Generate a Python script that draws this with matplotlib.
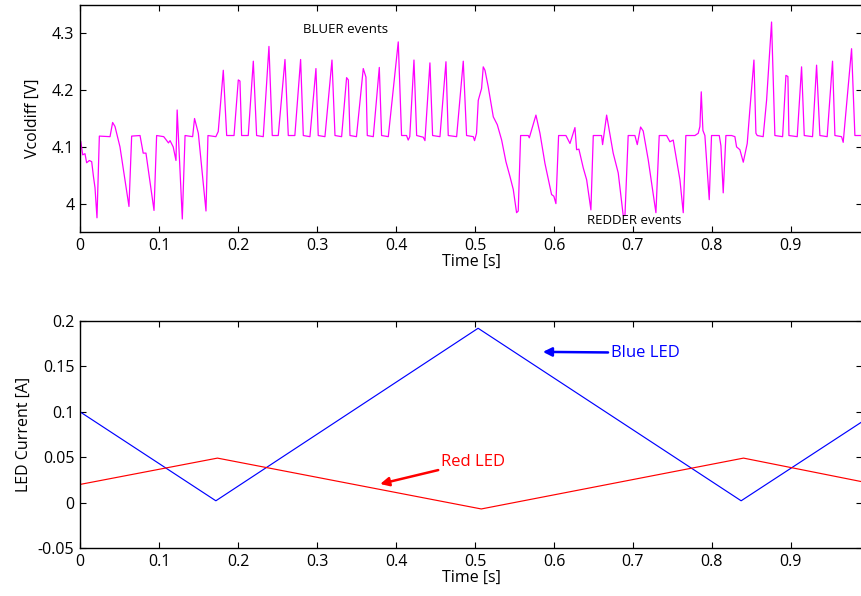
import matplotlib
matplotlib.use("Agg")
import matplotlib.pyplot as plt
import numpy as np

# --- Measured coil voltage difference ---
t_sig = [
    0.001, 0.0034, 0.0063, 0.0084, 0.0118, 0.0148, 0.017, 0.019, 0.0215, 0.0245,
    0.038, 0.0413, 0.0443, 0.0506, 0.062, 0.0654, 0.076, 0.080, 0.0835, 0.0937,
    0.097, 0.106, 0.112, 0.114, 0.118, 0.1215, 0.123, 0.1295, 0.133, 0.1426,
    0.145, 0.1498, 0.1595, 0.162, 0.172, 0.175, 0.1814, 0.1857, 0.195, 0.2004,
    0.2025, 0.2046, 0.213, 0.2194, 0.2236, 0.232, 0.2392, 0.2434, 0.251, 0.2595,
    0.2637, 0.272, 0.2793, 0.2827, 0.2911, 0.2987, 0.3016, 0.3101, 0.319, 0.3228,
    0.3312, 0.3375, 0.3397, 0.3418, 0.350, 0.3586, 0.362, 0.3637, 0.3713, 0.3789,
    0.3818, 0.3903, 0.4029, 0.4071, 0.4134, 0.4155, 0.4175, 0.4228, 0.4262, 0.4346,
    0.4367, 0.443, 0.4464, 0.4557, 0.4633, 0.4662, 0.4768, 0.4852, 0.4894, 0.4979,
    0.4995, 0.502, 0.5042, 0.5084, 0.5105, 0.5127, 0.5168, 0.5232, 0.5283, 0.5338,
    0.5392, 0.5443, 0.5485, 0.5527, 0.5548, 0.5578, 0.5675, 0.5688, 0.5772, 0.5823,
    0.5886, 0.597, 0.5999, 0.6025, 0.6059, 0.6152, 0.6203, 0.6266, 0.6287, 0.6316,
    0.6371, 0.6414, 0.6468, 0.6498, 0.6603, 0.6616, 0.6667, 0.675, 0.6814, 0.6877,
    0.6899, 0.694, 0.7025, 0.7055, 0.7097, 0.713, 0.7194, 0.7291, 0.7333, 0.7426,
    0.7468, 0.751, 0.7595, 0.7637, 0.767, 0.7785, 0.7827, 0.7848, 0.7865, 0.7886,
    0.7911, 0.7966, 0.7995, 0.8093, 0.8114, 0.8143, 0.8177, 0.8249, 0.8291, 0.8312,
    0.8354, 0.8397, 0.8447, 0.848, 0.8532, 0.8557, 0.8574, 0.8649, 0.8692, 0.8755,
    0.8797, 0.8895, 0.8937, 0.8962, 0.8975, 0.908, 0.9135, 0.9169, 0.9274, 0.9325,
    0.9367, 0.9459, 0.9527, 0.9557, 0.9641, 0.9662, 0.9768, 0.981, 0.99,
]
v_sig = [
    4.109, 4.086, 4.088, 4.072, 4.076, 4.074, 4.048, 4.028, 3.975, 4.119,
    4.118, 4.143, 4.136, 4.100, 3.995, 4.119, 4.120, 4.089, 4.089, 3.988,
    4.120, 4.118, 4.107, 4.111, 4.100, 4.076, 4.165, 3.973, 4.120, 4.118,
    4.150, 4.124, 3.987, 4.120, 4.118, 4.127, 4.235, 4.120, 4.120, 4.218,
    4.216, 4.120, 4.120, 4.251, 4.120, 4.118, 4.277, 4.120, 4.120, 4.254,
    4.120, 4.120, 4.254, 4.120, 4.118, 4.238, 4.120, 4.118, 4.253, 4.120,
    4.118, 4.222, 4.218, 4.120, 4.118, 4.238, 4.223, 4.120, 4.118, 4.240,
    4.120, 4.118, 4.285, 4.120, 4.120, 4.112, 4.118, 4.253, 4.120, 4.117,
    4.111, 4.248, 4.120, 4.118, 4.250, 4.120, 4.118, 4.251, 4.120, 4.118,
    4.111, 4.124, 4.182, 4.203, 4.241, 4.235, 4.206, 4.153, 4.139, 4.112,
    4.074, 4.048, 4.025, 3.984, 3.987, 4.120, 4.120, 4.116, 4.156, 4.124,
    4.071, 4.016, 4.013, 4.000, 4.120, 4.120, 4.106, 4.134, 4.095, 4.096,
    4.063, 4.042, 3.989, 4.120, 4.120, 4.104, 4.156, 4.089, 4.054, 3.979,
    3.979, 4.120, 4.120, 4.104, 4.135, 4.128, 4.077, 3.984, 4.120, 4.120,
    4.109, 4.112, 4.042, 3.984, 4.120, 4.120, 4.124, 4.136, 4.197, 4.129,
    4.120, 4.007, 4.120, 4.120, 4.102, 4.019, 4.120, 4.120, 4.118, 4.100,
    4.095, 4.073, 4.106, 4.165, 4.253, 4.124, 4.120, 4.118, 4.182, 4.320,
    4.120, 4.118, 4.226, 4.224, 4.120, 4.118, 4.241, 4.120, 4.118, 4.244,
    4.120, 4.118, 4.251, 4.120, 4.118, 4.108, 4.273, 4.120, 4.120,
]

# --- LED drive currents (triangle sweeps) ---
t_blue = [0.0, 0.172, 0.504, 0.837, 0.99]
i_blue = [0.100, 0.002, 0.192, 0.002, 0.089]
t_red = [0.0, 0.174, 0.508, 0.840, 0.99]
i_red = [0.020, 0.049, -0.007, 0.049, 0.023]

top_yticks = [4.0, 4.1, 4.2, 4.3]
top_yticklabels = ["4", "4.1", "4.2", "4.3"]
bot_yticks = [-0.05, 0, 0.05, 0.1, 0.15, 0.2]
bot_yticklabels = ["-0.05", "0", "0.05", "0.1", "0.15", "0.2"]
xticks = [0, 0.1, 0.2, 0.3, 0.4, 0.5, 0.6, 0.7, 0.8, 0.9]
xticklabels = ["0", "0.1", "0.2", "0.3", "0.4", "0.5", "0.6", "0.7", "0.8", "0.9"]

plt.rcParams["font.family"] = ["Open Sans", "DejaVu Sans"]

W, H = 862, 596
fig = plt.figure(figsize=(W / 100, H / 100), dpi=100)

ax1 = fig.add_axes([80 / W, 1 - 232 / H, 782 / W, 227 / H])
ax2 = fig.add_axes([80 / W, 1 - 548 / H, 782 / W, 227 / H])


def style(ax):
    ax.tick_params(direction="in", length=4.5, width=0.8, top=True, right=True,
                   labelsize=11.5, pad=4)
    for s in ax.spines.values():
        s.set_linewidth(1.0)
    ax.spines["right"].set_visible(False)
    ax.set_xticks(xticks)
    ax.set_xticklabels(xticklabels)
    ax.set_xlim(0, 0.99)


ax1.plot(t_sig, v_sig, color="#ff00ff", lw=0.9)
style(ax1)
ax1.set_ylim(3.95, 4.35)
ax1.set_yticks(top_yticks)
ax1.set_yticklabels(top_yticklabels)
ax1.set_xlabel("Time [s]", fontsize=11.5, labelpad=0)
ax1.set_ylabel("Vcoldiff [V]", fontsize=11.5, labelpad=8)
ax1.text(0.282, 4.307, "BLUER events", fontsize=9.5, ha="left", va="center")
ax1.text(0.642, 3.971, "REDDER events", fontsize=9.5, ha="left", va="center")

ax2.plot(t_blue, i_blue, color="#0000ff", lw=0.85)
ax2.plot(t_red, i_red, color="#ff0000", lw=0.85)
style(ax2)
ax2.set_ylim(-0.05, 0.2)
ax2.set_yticks(bot_yticks)
ax2.set_yticklabels(bot_yticklabels)
ax2.set_xlabel("Time [s]", fontsize=11.5, labelpad=0)
ax2.set_ylabel("LED Current [A]", fontsize=11.5, labelpad=4)

ax2.annotate("Blue LED", xy=(0.586, 0.166), xytext=(0.672, 0.165),
             color="#0000ff", fontsize=12, ha="left", va="center",
             arrowprops=dict(arrowstyle="-|>", color="#0000ff", lw=1.8,
                             mutation_scale=13, shrinkA=0, shrinkB=0))
ax2.annotate("Red LED", xy=(0.380, 0.0205), xytext=(0.457, 0.045),
             color="#ff0000", fontsize=12, ha="left", va="center",
             arrowprops=dict(arrowstyle="-|>", color="#ff0000", lw=1.8,
                             mutation_scale=13, shrinkA=0, shrinkB=0))

fig.savefig("out.png", dpi=100)
